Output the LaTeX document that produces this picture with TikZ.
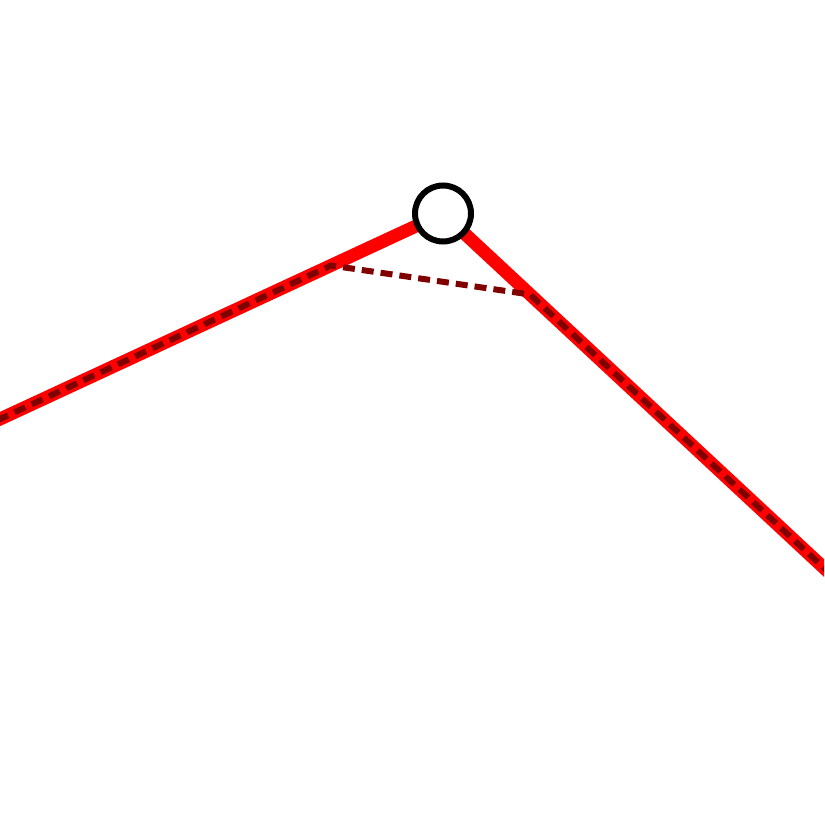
\documentclass[tikz,border=0pt]{standalone}
\definecolor{darkred}{HTML}{800000}
\tikzset{
  redline/.style={draw=red, line width=13pt},
  dashline/.style={draw=darkred, line width=6pt, dash pattern=on 12pt off 7pt},
  knot/.style={circle, draw=black, fill=white, line width=6pt, minimum size=56pt, inner sep=0pt}
}
\begin{document}
\begin{tikzpicture}[x=1pt,y=-1pt]
\useasboundingbox (0,0) rectangle (824,824);
\clip (0,0) rectangle (824,824);
\coordinate (L) at (-20,428.3);
\coordinate (R) at (844,586.6);
\coordinate (P) at (443,213.5);
\coordinate (A) at (331,265.5);
\coordinate (B) at (530,294.5);
\draw[redline] (L) -- (P) -- (R);
\draw[dashline] (L) -- (A) -- (B) -- (R);
\node[knot] (c) at (P) {};
\end{tikzpicture}
\end{document}
